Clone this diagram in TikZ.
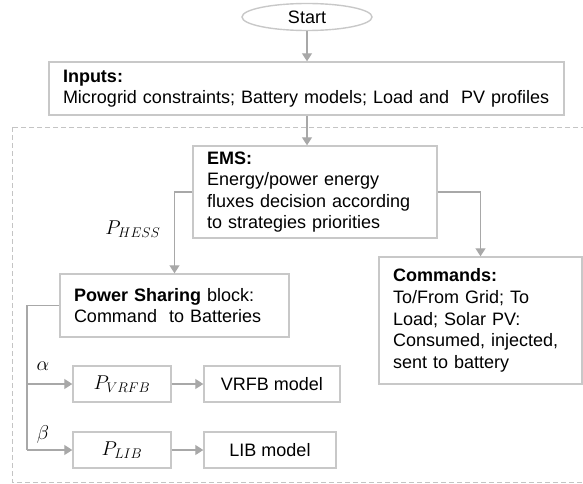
\documentclass[tikz,border=0pt]{standalone}
\usepackage{fix-cm}
\usepackage{fontspec}
\setmainfont{Liberation Sans}
\usetikzlibrary{arrows.meta,shapes.geometric}
\definecolor{boxgray}{RGB}{200,200,200}
\definecolor{linegray}{RGB}{168,168,168}
\definecolor{dashgray}{RGB}{196,196,196}
\newcommand{\txtsize}{\fontsize{18}{21.6}\selectfont}
\newcommand{\mathsize}{\fontsize{20}{24}\selectfont}
\tikzset{
	blk/.style={draw=boxgray, line width=1.4pt, inner xsep=14pt, inner ysep=0pt, align=left},
	smallblk/.style={draw=boxgray, line width=1.4pt, inner sep=0pt, align=center, minimum height=36pt},
	conn/.style={draw=linegray, line width=1.3pt, -{Triangle[length=8pt,width=10pt]}},
	wire/.style={draw=linegray, line width=1.3pt},
}

\begin{document}
\begin{tikzpicture}[x=1pt,y=-1pt,font=\txtsize]
	%%%%% START %%%%%
	\useasboundingbox (0,0) rectangle (583,484);
	
	% dashed frame round the EMS part (right side runs off the page)
	\draw[dashgray, line width=1pt, dash pattern=on 5pt off 3pt] (12,127) rectangle (592,482);
	
	\node[draw=boxgray, line width=1.4pt, ellipse, minimum width=130pt, minimum height=27pt, inner sep=0pt] (start) at (307,17) {Start};
	
	\node[blk, minimum height=53pt, text width=487pt] (inputs) at (306.5,88.5) {\textbf{Inputs:}\\Microgrid constraints; Battery models; Load and\ \ PV profiles};
	
	\node[blk, minimum height=92pt, text width=216pt] (ems) at (315,192) {\textbf{EMS:}\\Energy/power energy\\fluxes decision according\\to strategies priorities};
	
	\node[blk, minimum height=127pt, text width=175pt] (cmd) at (480.5,320.5) {\textbf{Commands:}\\To/From Grid; To\\Load; Solar PV:\\Consumed,\ injected,\\sent to battery};
	
	\node[blk, minimum height=63pt, text width=201pt] (ps) at (174.5,305.5) {\textbf{Power Sharing} block:\\Command\ \ to Batteries};
	
	\node[smallblk, minimum width=98pt] (pvrfb) at (122,384) {\mathsize$P_{VRFB}$};
	\node[smallblk, minimum width=136pt] (vrfb) at (272,384) {VRFB model};
	\node[smallblk, minimum width=98pt] (plib) at (122,450) {\mathsize$P_{LIB}$};
	\node[smallblk, minimum width=132pt] (lib) at (270,450) {LIB model};
	
	% labels
	\node (phess) at (133,229) {\mathsize$P_{HESS}$};
	\node (alpha) at (43,366) {\mathsize$\alpha$};
	\node (beta) at (43,434) {\mathsize$\beta$};
	
	% connectors
	\draw[conn] (start.south) -- (start.south |- inputs.north);
	\draw[conn] (start.south |- inputs.south) -- (start.south |- ems.north);
	\draw[conn] (ems.west) -| (ps.north);
	\draw[conn] (ems.east) -| (cmd.north);
	
	\coordinate (bus) at (27,307);
	\draw[wire] (ps.west) -| (bus |- plib.west);
	\draw[conn] (bus |- pvrfb.west) -- (pvrfb.west);
	\draw[conn] (bus |- plib.west) -- (plib.west);
	\draw[conn] (pvrfb) -- (vrfb);
	\draw[conn] (plib) -- (lib);
	
	%%%%% END %%%%%
\end{tikzpicture}
\end{document}
